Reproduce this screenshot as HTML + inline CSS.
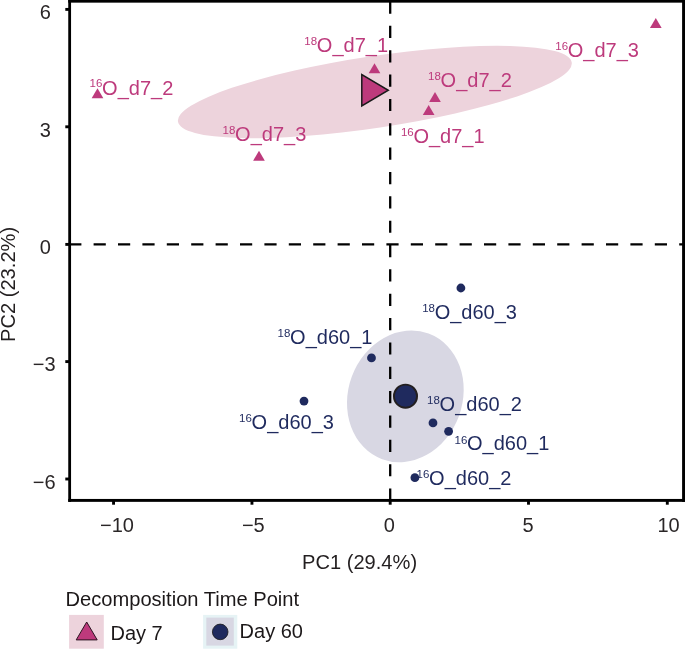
<!DOCTYPE html>
<html lang="en"><head><meta charset="utf-8"><title>PCA</title>
<style>
html,body{margin:0;padding:0;background:#fff;}
body{width:685px;height:649px;overflow:hidden;}
svg{display:block;font-family:"Liberation Sans",sans-serif;}
</style></head><body>
<svg width="685" height="649" viewBox="0 0 685 649">
<rect width="685" height="649" fill="#ffffff"/>
<ellipse cx="374.85" cy="92.0" rx="199.1" ry="35.85" transform="rotate(-8.55 374.85 92.0)" fill="#EDD3DC"/>
<ellipse cx="405.35" cy="396.35" rx="66.97" ry="57.07" transform="rotate(-69.7 405.35 396.35)" fill="#D8D7E3"/>
<line x1="69.2" y1="244.4" x2="683" y2="244.4" stroke="#000" stroke-width="2.3" stroke-dasharray="12.2 12.2"/>
<line x1="390.2" y1="500.7" x2="390.2" y2="1" stroke="#000" stroke-width="2.3" stroke-dasharray="12.2 12.15"/>
<polygon points="97.50,88.20 103.35,98.20 91.65,98.20" fill="#BD3A7C"/>
<polygon points="259.00,150.70 264.85,160.70 253.15,160.70" fill="#BD3A7C"/>
<polygon points="374.50,63.20 380.35,73.20 368.65,73.20" fill="#BD3A7C"/>
<polygon points="435.00,91.90 440.85,101.90 429.15,101.90" fill="#BD3A7C"/>
<polygon points="428.65,104.90 434.50,114.90 422.80,114.90" fill="#BD3A7C"/>
<polygon points="655.80,18.10 661.65,28.10 649.95,28.10" fill="#BD3A7C"/>
<circle cx="460.9" cy="288" r="4.4" fill="#1F2A5E"/>
<circle cx="371.5" cy="357.9" r="4.4" fill="#1F2A5E"/>
<circle cx="304" cy="401.1" r="4.4" fill="#1F2A5E"/>
<circle cx="433" cy="422.9" r="4.4" fill="#1F2A5E"/>
<circle cx="448.6" cy="431.35" r="4.4" fill="#1F2A5E"/>
<circle cx="414.9" cy="477.7" r="4.4" fill="#1F2A5E"/>
<polygon points="361.8,74.6 361.8,105.9 388.3,90.25" fill="#BD3A7C" stroke="#1a1a1a" stroke-width="1.5" stroke-linejoin="miter"/>
<circle cx="405.5" cy="396.2" r="11.55" fill="#1F2A5E" stroke="#231F20" stroke-width="1.9"/>
<text y="94.7" fill="#BD3A7C" font-size="20"><tspan x="102.40" text-anchor="end" font-size="11.5" dy="-7.30">16</tspan><tspan x="102.10" text-anchor="start" dy="7.30">O_d7_2</tspan></text>
<text y="51.6" fill="#BD3A7C" font-size="20"><tspan x="317.15" text-anchor="end" font-size="11.5" dy="-7.00">18</tspan><tspan x="316.85" text-anchor="start" dy="7.00">O_d7_1</tspan></text>
<text y="87" fill="#BD3A7C" font-size="20"><tspan x="440.90" text-anchor="end" font-size="11.5" dy="-7.20">18</tspan><tspan x="440.60" text-anchor="start" dy="7.20">O_d7_2</tspan></text>
<text y="143.2" fill="#BD3A7C" font-size="20"><tspan x="413.70" text-anchor="end" font-size="11.5" dy="-7.00">16</tspan><tspan x="413.40" text-anchor="start" dy="7.00">O_d7_1</tspan></text>
<text y="56.8" fill="#BD3A7C" font-size="20"><tspan x="568.10" text-anchor="end" font-size="11.5" dy="-7.00">16</tspan><tspan x="567.80" text-anchor="start" dy="7.00">O_d7_3</tspan></text>
<text y="141.15" fill="#BD3A7C" font-size="20"><tspan x="235.40" text-anchor="end" font-size="11.5" dy="-6.80">18</tspan><tspan x="235.10" text-anchor="start" dy="6.80">O_d7_3</tspan></text>
<text y="318.6" fill="#1F2A5E" font-size="20"><tspan x="435.00" text-anchor="end" font-size="11.5" dy="-6.80">18</tspan><tspan x="434.70" text-anchor="start" dy="6.80">O_d60_3</tspan></text>
<text y="343.5" fill="#1F2A5E" font-size="20"><tspan x="290.40" text-anchor="end" font-size="11.5" dy="-6.10">18</tspan><tspan x="290.10" text-anchor="start" dy="6.10">O_d60_1</tspan></text>
<text y="428.9" fill="#1F2A5E" font-size="20"><tspan x="251.90" text-anchor="end" font-size="11.5" dy="-7.00">16</tspan><tspan x="251.60" text-anchor="start" dy="7.00">O_d60_3</tspan></text>
<text y="410.5" fill="#1F2A5E" font-size="20"><tspan x="439.90" text-anchor="end" font-size="11.5" dy="-6.20">18</tspan><tspan x="439.60" text-anchor="start" dy="6.20">O_d60_2</tspan></text>
<text y="450.3" fill="#1F2A5E" font-size="20"><tspan x="467.30" text-anchor="end" font-size="11.5" dy="-6.80">16</tspan><tspan x="467.00" text-anchor="start" dy="6.80">O_d60_1</tspan></text>
<text y="484.7" fill="#1F2A5E" font-size="20"><tspan x="429.40" text-anchor="end" font-size="11.5" dy="-7.00">16</tspan><tspan x="429.10" text-anchor="start" dy="7.00">O_d60_2</tspan></text>
<rect x="68.25" y="-1" width="2.8" height="502.85" fill="#000"/>
<rect x="68.25" y="-1" width="620" height="3.65" fill="#000"/>
<rect x="682.1" y="-1" width="6" height="502.85" fill="#000"/>
<rect x="68.25" y="498.95" width="620" height="2.9" fill="#000"/>
<line x1="65.3" y1="9.4" x2="69" y2="9.4" stroke="#000" stroke-width="2.9"/>
<line x1="65.3" y1="126.8" x2="69" y2="126.8" stroke="#000" stroke-width="2.9"/>
<line x1="65.3" y1="244.4" x2="69" y2="244.4" stroke="#000" stroke-width="2.9"/>
<line x1="65.3" y1="361.6" x2="69" y2="361.6" stroke="#000" stroke-width="2.9"/>
<line x1="65.3" y1="479" x2="69" y2="479" stroke="#000" stroke-width="2.9"/>
<line x1="113.55" y1="501" x2="113.55" y2="504.7" stroke="#000" stroke-width="2.9"/>
<line x1="251.95" y1="501" x2="251.95" y2="504.7" stroke="#000" stroke-width="2.9"/>
<line x1="390.2" y1="501" x2="390.2" y2="504.7" stroke="#000" stroke-width="2.9"/>
<line x1="528.5" y1="501" x2="528.5" y2="504.7" stroke="#000" stroke-width="2.9"/>
<line x1="667.3" y1="501" x2="667.3" y2="504.7" stroke="#000" stroke-width="2.9"/>
<text x="50.8" y="19.1" text-anchor="end" font-size="20" fill="#2a2627">6</text>
<text x="50.8" y="136.5" text-anchor="end" font-size="20" fill="#2a2627">3</text>
<text x="50.8" y="254.1" text-anchor="end" font-size="20" fill="#2a2627">0</text>
<text x="55.6" y="371.3" text-anchor="end" font-size="20" fill="#2a2627">−3</text>
<text x="55.6" y="488.7" text-anchor="end" font-size="20" fill="#2a2627">−6</text>
<text x="117.0" y="532.1" text-anchor="middle" font-size="20" fill="#2a2627">−10</text>
<text x="253.3" y="532.1" text-anchor="middle" font-size="20" fill="#2a2627">−5</text>
<text x="389.4" y="532.1" text-anchor="middle" font-size="20" fill="#2a2627">0</text>
<text x="528.1" y="532.1" text-anchor="middle" font-size="20" fill="#2a2627">5</text>
<text x="668.5" y="532.1" text-anchor="middle" font-size="20" fill="#2a2627">10</text>
<text x="359.6" y="569" text-anchor="middle" font-size="20.1" fill="#231F20">PC1 (29.4%)</text>
<text transform="translate(15.3 284.4) rotate(-90)" text-anchor="middle" font-size="20.1" fill="#231F20">PC2 (23.2%)</text>
<text x="65.5" y="605.5" font-size="20.13" fill="#1c1819">Decomposition Time Point</text>
<rect x="69.1" y="614.9" width="34.7" height="33.8" fill="#EDD3DC"/>
<polygon points="86.7,622.0 97.2,639.9 76.2,639.9" fill="#BD3A7C" stroke="#2a1420" stroke-width="1.0"/>
<text x="110.5" y="640.3" font-size="20" fill="#1c1819">Day 7</text>
<rect x="203.1" y="614.9" width="34.2" height="33.8" fill="#E6F3F5"/>
<rect x="206.3" y="617.6" width="27.5" height="28" fill="#D8D7E3"/>
<circle cx="220.2" cy="631.9" r="7.8" fill="#1F2A5E" stroke="#1a1a1a" stroke-width="0.8"/>
<text x="239.6" y="638.3" font-size="20" fill="#1c1819">Day 60</text>
</svg></body></html>
